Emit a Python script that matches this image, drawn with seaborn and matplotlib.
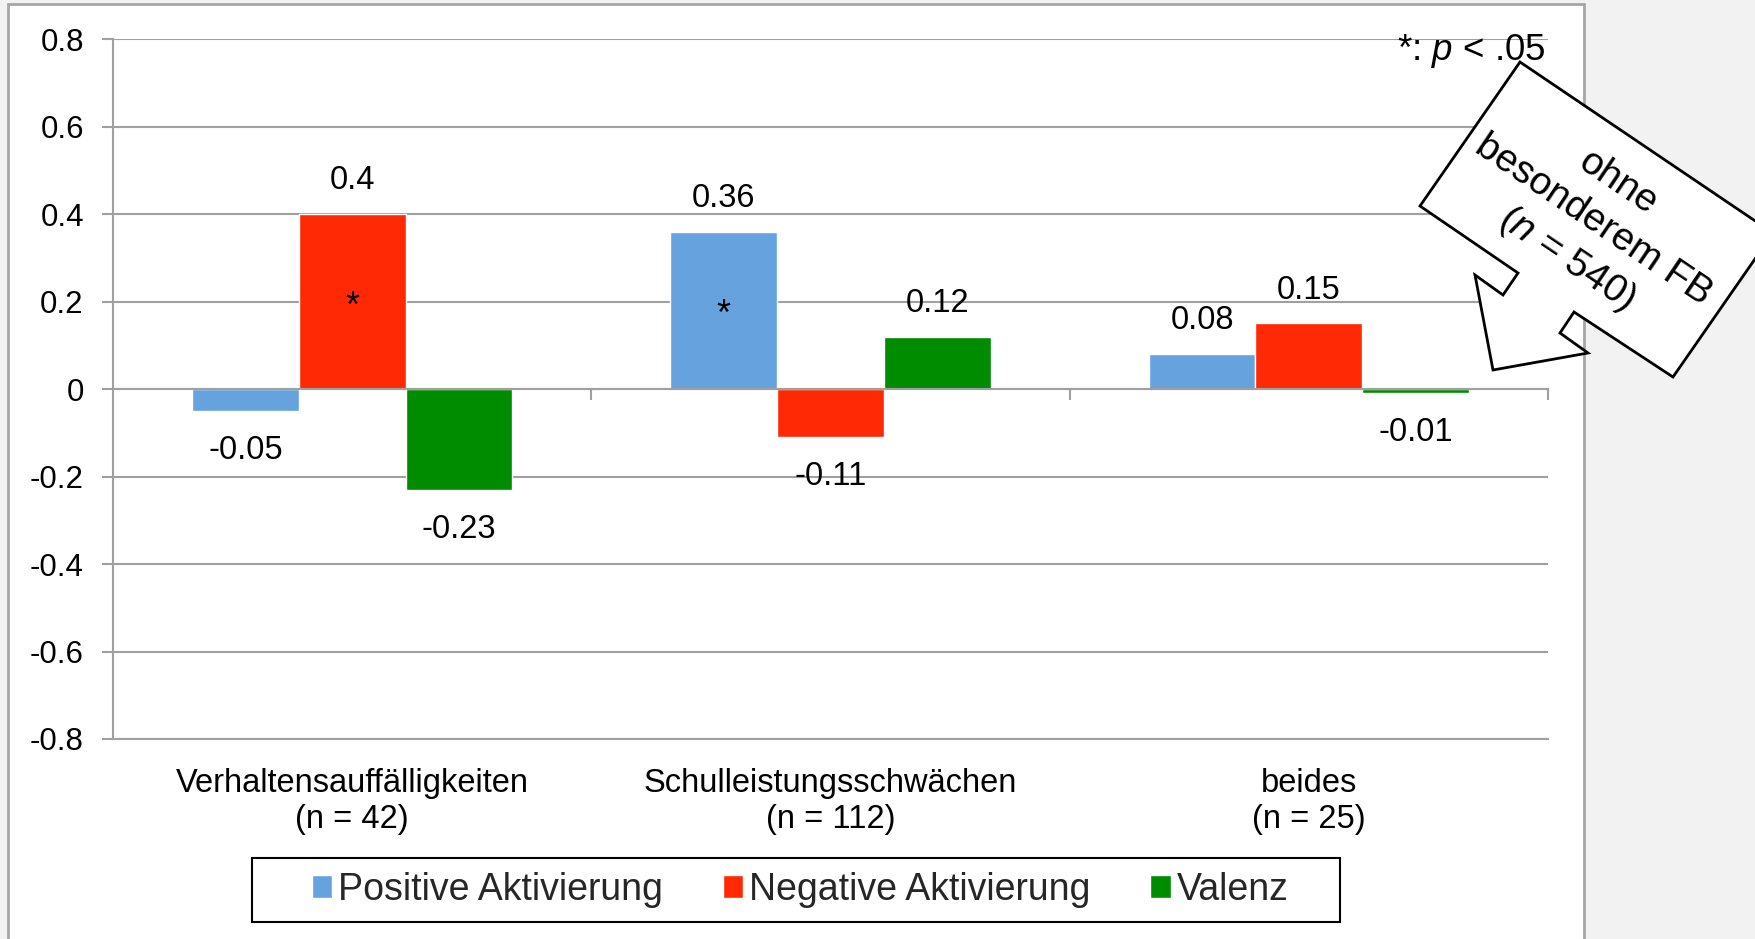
import numpy as np
import pandas as pd
import matplotlib.pyplot as plt
from matplotlib.patches import Polygon, Rectangle
from matplotlib.ticker import FuncFormatter
import seaborn as sns

# ----------------------------------------
# Data
# ----------------------------------------
categories = ["Verhaltensauffälligkeiten\n(n = 42)",
              "Schulleistungsschwächen\n(n = 112)",
              "beides\n(n = 25)"]
series = ["Positive Aktivierung", "Negative Aktivierung", "Valenz"]
positive = [-0.05, 0.36, 0.08]
negative = [0.40, -0.11, 0.15]
valenz = [-0.23, 0.12, -0.01]
sig_positive = [False, True, False]
sig_negative = [True, False, False]
sig_valenz = [False, False, False]
colors = ["#66a3de", "#ff2a05", "#008c00"]

values = [positive, negative, valenz]
sigs = [sig_positive, sig_negative, sig_valenz]

df = pd.DataFrame({
    "Gruppe": categories * len(series),
    "Skala": [s for s in series for _ in categories],
    "Wert": positive + negative + valenz,
})

# ----------------------------------------
# Style
# ----------------------------------------
sns.set_style("white")
plt.rcParams["font.family"] = ["Liberation Sans", "DejaVu Sans"]
plt.rcParams["mathtext.fontset"] = "custom"
plt.rcParams["mathtext.rm"] = "Liberation Sans"
plt.rcParams["mathtext.it"] = "Liberation Sans:italic"

GRAY = "#a0a0a0"
W, H = 1755, 939

fig = plt.figure(figsize=(W / 100, H / 100), dpi=100)
fig.patch.set_facecolor("#f2f2f2")

# white panel with gray frame (pixel coords)
bg = fig.add_axes([0, 0, 1, 1], zorder=-1)
bg.set_xlim(0, W)
bg.set_ylim(H, 0)
bg.axis("off")
bg.add_patch(Rectangle((8, 4), 1576, 960, facecolor="white",
                       edgecolor="#a6a6a6", lw=2))

ax = fig.add_axes([113 / W, 1 - 739 / H, (1548 - 113) / W, 700 / H])
ax.set_facecolor("white")

sns.barplot(data=df, x="Gruppe", y="Wert", hue="Skala", palette=colors,
            width=0.67, saturation=1, errorbar=None, ax=ax)
handles, labels = ax.get_legend_handles_labels()
if ax.get_legend() is not None:
    ax.get_legend().remove()

# value labels and significance stars
for cont, vals, sg in zip(ax.containers, values, sigs):
    for bar, v, s in zip(cont, vals, sg):
        xc = bar.get_x() + bar.get_width() / 2
        ax.annotate(f"{v:g}", (xc, v), xytext=(0, 24 if v > 0 else -28.5),
                    textcoords="offset points", ha="center", va="center",
                    fontsize=23.5, color="black")
        if s:
            ax.annotate("*", (xc, v / 2), xytext=(0, -4),
                        textcoords="offset points", ha="center", va="center",
                        fontsize=26, color="black")

# axes styling
ax.set_ylim(-0.8, 0.8)
ax.set_xlim(-0.5, len(categories) - 0.5)
ax.set_yticks(np.arange(-0.8, 0.81, 0.2))
ax.yaxis.set_major_formatter(FuncFormatter(lambda v, p: f"{round(v, 1) + 0:g}"))
ax.yaxis.grid(True, color=GRAY, lw=1.5)
ax.set_axisbelow(True)
ax.set_xlabel("")
ax.set_ylabel("")
for side in ["top", "right"]:
    ax.spines[side].set_visible(False)
for side in ["left", "bottom"]:
    ax.spines[side].set_color(GRAY)
    ax.spines[side].set_linewidth(1.5)
ax.tick_params(axis="y", length=8, width=1.5, color=GRAY, labelsize=22.5,
               pad=13, labelcolor="black", left=True)
ax.tick_params(axis="x", length=0, labelsize=23.5, pad=21, labelcolor="black")

# zero line with category boundary ticks
sec = ax.secondary_xaxis(0.5)
sec.set_alignment("bottom")
sec.set_xticks(np.arange(len(categories)) + 0.5)
sec.tick_params(axis="x", length=8, width=1.5, color=GRAY, direction="out",
                labelbottom=False, labeltop=False)
sec.spines["bottom"].set_color(GRAY)
sec.spines["bottom"].set_linewidth(1.5)
sec.spines["top"].set_visible(False)
sec.set_zorder(5)

# legend (frame drawn separately)
leg = fig.legend(handles, labels, loc="center",
                 bbox_to_anchor=(800 / W, 1 - 890 / H), ncol=3,
                 frameon=False, fontsize=27, handlelength=0.55,
                 handleheight=0.55, handletextpad=0.15, columnspacing=1.6)

# overlay: legend box, note, callout
ov = fig.add_axes([0, 0, 1, 1], zorder=10)
ov.set_xlim(0, W)
ov.set_ylim(H, 0)
ov.axis("off")
ov.patch.set_alpha(0)
ov.add_patch(Rectangle((252, 858), 1088, 64, facecolor="none",
                       edgecolor="black", lw=1.5))
ov.text(1546, 60, r"*: $\mathit{p}$ < .05", ha="right", va="baseline",
        fontsize=26.5, color="black")

callout = [(1520, 62), (1773, 233), (1673, 377), (1574, 312), (1560, 333),
           (1588, 353), (1493, 370), (1475, 275), (1503, 295), (1518, 273),
           (1420, 206)]
ov.add_patch(Polygon(callout, closed=True, facecolor="white",
                     edgecolor="black", lw=2, clip_on=False))
ov.text(1592, 222, "ohne\nbesonderem FB\n($\\mathit{n}$ = 540)",
        rotation=-34, rotation_mode="anchor", ha="center", va="center",
        multialignment="center", linespacing=1.3, fontsize=28,
        color="black")

fig.savefig("out.png", dpi=100)
plt.close(fig)
